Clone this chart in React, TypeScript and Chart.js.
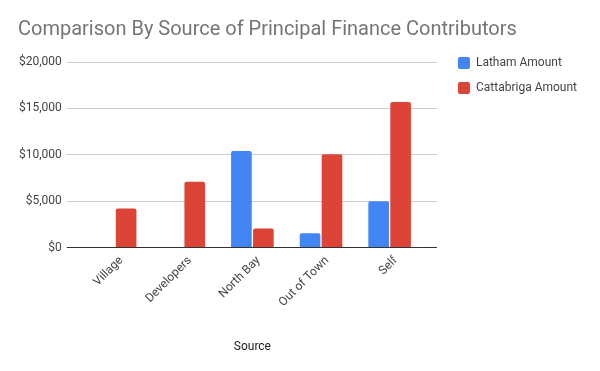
import React, { useEffect, useRef } from "react";
import { Chart, registerables } from "chart.js";

Chart.register(...registerables);

const categories = ["Village", "Developers", "North Bay", "Out of Town", "Self"];
const lathamAmount = [0, 0, 10400, 1550, 5000];
const cattabrigaAmount = [4200, 7100, 2050, 10050, 15700];
const seriesNames = ["Latham Amount", "Cattabriga Amount"];
const titleText = "Comparison By Source of Principal Finance Contributors";
const xAxisTitle = "Source";

const FONT = "Roboto, 'Noto Sans', sans-serif";

export default function App() {
  const ref = useRef<HTMLCanvasElement | null>(null);

  useEffect(() => {
    if (!ref.current) return;
    const gridColor = (ctx: any) => (ctx.tick && ctx.tick.value === 0 ? "#333333" : "#cccccc");
    const chart = new Chart(ref.current, {
      type: "bar",
      data: {
        labels: categories,
        datasets: [
          {
            label: seriesNames[0],
            data: lathamAmount,
            backgroundColor: "#4285F4",
            borderColor: "#4285F4",
            borderWidth: 0,
            borderRadius: 2,
            categoryPercentage: 0.64,
            barPercentage: 0.94,
            xAxisID: "x",
            yAxisID: "y",
          },
          {
            label: seriesNames[1],
            data: cattabrigaAmount,
            backgroundColor: "#DB4437",
            borderColor: "#DB4437",
            borderWidth: 0,
            borderRadius: 2,
            categoryPercentage: 0.64,
            barPercentage: 0.94,
            xAxisID: "x",
            yAxisID: "y",
          },
        ],
      },
      options: {
        responsive: false,
        animation: false,
        maintainAspectRatio: false,
        layout: { padding: { left: 18, right: 13, top: 0, bottom: 17 } },
        plugins: {
          title: {
            display: true,
            text: titleText,
            align: "start",
            color: "#757575",
            font: { family: FONT, size: 20, weight: "normal" },
            padding: { top: 18, bottom: 1 },
          },
          legend: {
            position: "right",
            align: "start",
            fullSize: true,
            maxWidth: 220,
            title: {
              display: true,
              text: " ",
              font: { family: FONT, size: 10 },
              padding: { top: 32, bottom: 0 },
            },
            labels: {
              boxWidth: 12,
              boxHeight: 12,
              padding: 13,
              color: "#444444",
              font: { family: FONT, size: 12 },
              useBorderRadius: true,
              borderRadius: 2,
            },
          },
          tooltip: { enabled: false },
        },
        scales: {
          x: {
            type: "category",
            position: "bottom",
            grid: { display: false, drawTicks: false },
            border: { display: false },
            ticks: {
              autoSkip: false,
              maxRotation: 45,
              minRotation: 45,
              padding: 6,
              labelOffset: 6,
              color: "#444444",
              font: { family: FONT, size: 12 },
            },
            title: {
              display: true,
              text: xAxisTitle,
              color: "#222222",
              font: { family: FONT, size: 12 },
              padding: { top: 24, bottom: 0 },
            },
          },
          xTop: {
            type: "category",
            position: "top",
            display: true,
            grid: { display: false, drawTicks: false },
            border: { display: false },
            ticks: { display: false },
            afterFit: (s: any) => {
              s.height = 19;
            },
          },
          y: {
            type: "linear",
            position: "left",
            min: 0,
            max: 20000,
            border: { display: false },
            grid: {
              color: gridColor,
              tickColor: gridColor,
              drawTicks: true,
              tickLength: 14,
            },
            ticks: {
              stepSize: 5000,
              padding: 5,
              color: "#444444",
              font: { family: FONT, size: 12 },
              callback: (v: any) => "$" + Number(v).toLocaleString("en-US"),
            },
            afterFit: (s: any) => {
              s.width = s.width - 4;
            },
          },
          yRight: {
            type: "linear",
            position: "right",
            min: 0,
            max: 20000,
            display: true,
            border: { display: false },
            grid: {
              drawOnChartArea: false,
              color: gridColor,
              tickColor: gridColor,
              drawTicks: true,
              tickLength: 13,
            },
            ticks: { display: false, stepSize: 5000 },
            afterFit: (s: any) => {
              s.width = 21;
            },
          },
        },
      },
    });
    return () => chart.destroy();
  }, []);

  return (
    <div style={{ position: "fixed", left: 0, top: 0, width: 600, height: 371, background: "#ffffff" }}>
      <canvas ref={ref} width={600} height={371} style={{ width: 600, height: 371 }} />
    </div>
  );
}
